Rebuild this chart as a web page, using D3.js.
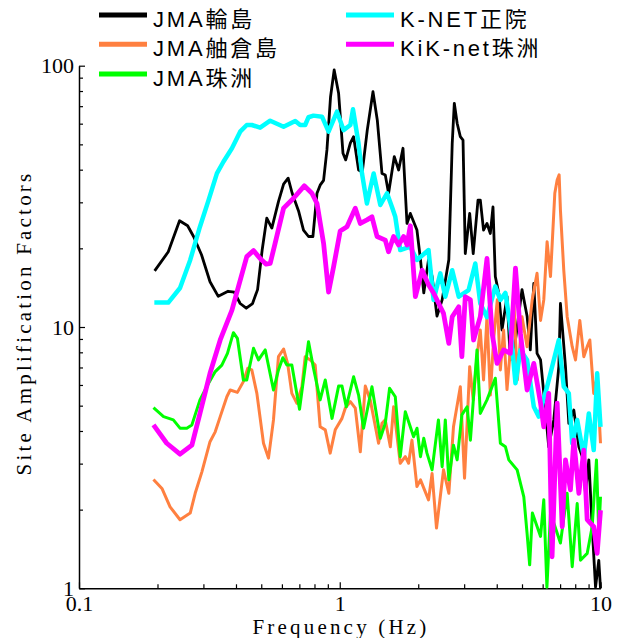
<!DOCTYPE html>
<html>
<head>
<meta charset="utf-8">
<script src="https://cdn.jsdelivr.net/npm/d3@7"></script>
<style>
  body { margin: 0; background: #fff; }
  svg { display: block; }
  .tick text { font-family: "Liberation Serif", "Times New Roman", serif; font-size: 22px; fill: #000; }
  .tick line { stroke: #000; stroke-width: 1.2; }
  .domain { stroke: #000; stroke-width: 1.5; }
  .axis-title { font-family: "Liberation Serif", "Times New Roman", serif; font-size: 21px; letter-spacing: 3.2px; }
  .legend text { font-family: "Liberation Sans", Arial, "Noto Sans CJK JP", sans-serif; font-size: 22px; letter-spacing: 2.8px; }
</style>
</head>
<body>
<div id="chart"></div>
<script>
// site amplification factors, 5 stations, log-log
const wajima = [[0.195,16.4],[0.22,19.4],[0.243,25.5],[0.261,24.4],[0.275,22.2],[0.295,18.9],[0.318,14.9],[0.342,13.1],[0.373,13.7],[0.394,13.6],[0.415,12.3],[0.438,11.8],[0.463,12.3],[0.484,13.9],[0.504,19.7],[0.525,26.1],[0.549,23.9],[0.582,30.2],[0.609,35.2],[0.634,37.1],[0.657,32.5],[0.695,27.8],[0.726,23.5],[0.759,22.2],[0.789,22.2],[0.818,32.5],[0.841,34.9],[0.867,36.4],[0.893,47.6],[0.922,76.1],[0.952,96.3],[0.99,78.4],[1.029,46.2],[1.054,43.6],[1.098,50.5],[1.13,53.5],[1.181,39.9],[1.22,39.2],[1.275,56.7],[1.341,79.5],[1.393,62.0],[1.452,38.7],[1.495,38.2],[1.539,32.5],[1.619,44.9],[1.682,39.9],[1.748,48.3],[1.811,24.9],[1.865,27.2],[1.977,23.5],[2.04,18.1],[2.10,13.5],[2.19,18.1],[2.26,15.6],[2.36,11.0],[2.47,12.7],[2.62,18.1],[2.70,50.5],[2.75,71.8],[2.82,60.2],[2.90,53.5],[2.97,51.9],[3.03,19.1],[3.15,27.2],[3.25,19.1],[3.39,30.6],[3.46,30.6],[3.56,23.5],[3.67,24.9],[3.78,22.8],[3.87,28.8],[3.95,15.6],[4.07,13.5],[4.19,9.74],[4.38,13.1],[4.51,7.48],[4.72,8.92],[5.0,13.9],[5.23,11.0],[5.38,8.17],[5.55,14.7],[5.71,7.93],[5.89,7.48],[6.06,5.58],[6.33,3.48],[6.62,4.41],[6.92,7.05],[7.02,12.3],[7.34,7.05],[7.56,4.28],[7.90,4.81],[8.26,3.48],[8.51,3.19],[8.76,2.31],[9.02,3.10],[9.29,1.72],[9.57,1.01],[9.85,1.28],[10,1.0]];

const hegura = [[0.193,2.61],[0.208,2.41],[0.2235,2.05],[0.244,1.83],[0.267,1.94],[0.279,2.31],[0.296,2.79],[0.318,3.64],[0.333,3.97],[0.348,4.54],[0.369,5.41],[0.38,5.74],[0.405,5.62],[0.427,6.18],[0.444,6.95],[0.46,6.85],[0.481,5.57],[0.51,3.59],[0.533,3.15],[0.557,4.41],[0.582,7.70],[0.609,8.24],[0.631,7.26],[0.655,5.57],[0.685,5.11],[0.716,5.91],[0.737,7.70],[0.771,7.48],[0.805,7.15],[0.841,4.15],[0.88,4.04],[0.919,3.29],[0.961,4.04],[1.02,4.47],[1.05,4.89],[1.098,5.18],[1.147,4.89],[1.199,3.33],[1.253,5.94],[1.309,5.26],[1.409,3.59],[1.452,4.28],[1.495,4.41],[1.563,3.48],[1.609,4.95],[1.706,3.01],[1.784,3.19],[1.837,3.01],[1.892,3.69],[1.977,2.45],[2.04,2.60],[2.19,2.18],[2.26,2.75],[2.35,1.70],[2.50,2.84],[2.62,2.31],[2.73,4.15],[2.90,5.91],[3.01,2.64],[3.08,4.28],[3.15,7.05],[3.25,5.26],[3.36,7.70],[3.46,9.74],[3.56,6.27],[3.67,10.95],[3.78,5.49],[3.89,8.92],[4.02,12.7],[4.13,6.85],[4.25,9.74],[4.38,5.76],[4.51,8.17],[4.65,12.7],[4.80,6.27],[5.0,10.95],[5.23,8.41],[5.47,12.7],[5.71,16.05],[5.89,10.6],[6.06,12.7],[6.24,21.2],[6.43,15.6],[6.68,32.5],[6.82,36.5],[6.94,38.2],[7.02,28.0],[7.23,16.5],[7.45,10.95],[7.79,8.41],[8.02,7.48],[8.33,10.6],[8.63,7.70],[8.89,8.41],[9.10,8.92],[9.42,5.57],[9.71,6.45],[10,3.59]];

const suzuJMA = [[0.193,4.91],[0.211,4.54],[0.23,4.41],[0.244,4.10],[0.259,4.10],[0.271,4.22],[0.291,5.26],[0.314,6.09],[0.333,6.75],[0.353,7.15],[0.371,7.93],[0.391,9.51],[0.405,9.05],[0.427,6.27],[0.44,6.27],[0.467,8.29],[0.488,7.48],[0.518,8.17],[0.557,5.74],[0.582,6.85],[0.605,7.63],[0.627,7.15],[0.655,7.15],[0.701,4.84],[0.759,8.78],[0.793,6.95],[0.841,5.26],[0.88,6.27],[0.934,4.47],[0.99,5.94],[1.02,5.94],[1.059,4.95],[1.13,6.45],[1.181,5.49],[1.234,4.10],[1.329,5.91],[1.431,3.75],[1.495,4.28],[1.553,5.83],[1.633,5.41],[1.706,3.19],[1.784,4.74],[1.92,3.80],[1.978,4.10],[2.04,3.19],[2.10,3.75],[2.16,3.29],[2.26,2.84],[2.39,4.41],[2.47,2.92],[2.54,4.41],[2.62,2.60],[2.73,3.53],[2.82,3.10],[2.94,4.61],[3.08,4.95],[3.17,3.69],[3.36,8.17],[3.46,4.67],[3.67,5.26],[3.95,6.37],[4.13,3.59],[4.32,3.48],[4.45,3.10],[4.79,2.84],[5.08,2.24],[5.23,1.62],[5.35,1.23],[5.48,1.94],[5.89,1.58],[6.06,2.18],[6.23,1.01],[6.43,1.94],[7.02,1.49],[7.45,2.31],[7.79,1.21],[8.14,2.11],[8.38,1.28],[8.89,1.36],[9.29,1.72],[9.65,3.10],[9.85,1.62],[10,2.24]];

const shoin = [[0.1945,12.4],[0.22,12.4],[0.244,14.1],[0.267,18.05],[0.291,24.2],[0.314,30.6],[0.338,38.7],[0.358,42.9],[0.386,48.3],[0.415,55.9],[0.44,59.3],[0.46,59.3],[0.495,57.9],[0.541,61.6],[0.609,58.4],[0.675,61.4],[0.705,59.3],[0.737,59.3],[0.759,63.5],[0.793,64.4],[0.855,63.8],[0.906,55.9],[0.976,66.7],[1.034,56.7],[1.098,59.3],[1.124,68.1],[1.18,50.5],[1.217,38.7],[1.271,29.7],[1.349,38.7],[1.431,29.3],[1.518,32.5],[1.586,28.8],[1.633,26.4],[1.706,19.7],[1.865,20.3],[1.977,18.05],[2.19,19.7],[2.29,12.7],[2.43,16.05],[2.54,13.06],[2.70,16.5],[2.86,13.06],[3.12,13.85],[3.31,17.5],[3.46,12.3],[3.67,10.9],[3.95,14.3],[4.13,12.7],[4.32,13.5],[4.51,10.0],[4.72,6.09],[4.93,8.16],[5.23,7.48],[5.55,4.95],[5.80,4.54],[6.24,5.91],[6.62,7.48],[6.92,8.92],[7.23,5.91],[7.56,5.57],[7.79,3.59],[8.14,4.41],[8.63,3.19],[9.02,4.67],[9.42,3.38],[9.71,6.65],[10,4.15]];

const suzuKiK = [[0.193,4.22],[0.217,3.59],[0.244,3.26],[0.271,3.53],[0.291,4.67],[0.318,6.65],[0.348,8.92],[0.386,11.6],[0.409,14.3],[0.44,18.6],[0.467,19.6],[0.495,18.3],[0.522,17.4],[0.541,17.5],[0.565,20.9],[0.609,28.5],[0.665,31.1],[0.731,34.7],[0.782,32.5],[0.818,29.7],[0.867,20.9],[0.906,13.6],[0.947,17.0],[1.004,23.3],[1.066,24.2],[1.147,28.5],[1.199,24.9],[1.272,25.7],[1.329,26.4],[1.39,22.2],[1.495,21.5],[1.539,19.4],[1.609,22.2],[1.682,20.6],[1.758,22.2],[1.811,20.6],[1.865,24.4],[1.95,13.06],[2.07,16.5],[2.19,14.5],[2.29,13.5],[2.43,11.96],[2.50,11.28],[2.62,8.66],[2.70,10.95],[2.86,11.96],[2.94,7.70],[3.03,13.06],[3.17,12.7],[3.26,8.92],[3.46,10.95],[3.67,18.3],[3.84,9.46],[4.01,7.26],[4.25,8.17],[4.51,7.93],[4.72,16.8],[4.93,9.46],[5.23,5.74],[5.55,7.26],[5.89,5.11],[6.06,4.15],[6.33,5.57],[6.52,1.32],[6.82,5.11],[7.13,1.72],[7.34,3.10],[7.67,2.38],[7.90,3.69],[8.26,2.31],[8.63,3.38],[8.89,1.83],[9.42,1.72],[9.71,1.36],[10,1.99]];

const seriesNames = ['JMA輪島','JMA舳倉島','JMA珠洲','K-NET正院','KiK-net珠洲'];
const seriesColors = ['#000000','#ff8040','#00ff00','#00ffff','#ff00ff'];
const seriesWidths = [2.8, 3, 3, 4.5, 4.8];
const xTickLabels = [0.1, 1, 10];
const yTickLabels = [1, 10, 100];

(function(){
  const W = 622, H = 638;
  const svg = d3.select('#chart').append('svg').attr('width', W).attr('height', H);

  const x = d3.scaleLog().domain([0.1, 10]).range([79, 600.5]);
  const y = d3.scaleLog().domain([1, 100]).range([588.3, 65.7]);

  const xTicks = x.ticks();   // 0.1..10 incl. minors
  const yTicks = y.ticks();

  const fmt = d => (xTickLabels.includes(d) ? String(d) : '');
  const fmtY = d => (yTickLabels.includes(d) ? String(d) : '');

  // y axis, ticks point inward
  const gy = svg.append('g').attr('transform', 'translate(79,0)')
    .call(d3.axisLeft(y).tickValues(yTicks).tickFormat(fmtY).tickSizeInner(-4).tickSizeOuter(0).tickPadding(5));
  gy.selectAll('.tick').filter(d => yTickLabels.includes(d)).select('line').attr('x2', 6);

  const gx = svg.append('g').attr('transform', 'translate(0,588.3)')
    .call(d3.axisBottom(x).tickValues(xTicks).tickFormat(fmt).tickSizeInner(-4).tickSizeOuter(0).tickPadding(7));
  gx.selectAll('.tick').filter(d => xTickLabels.includes(d)).select('line').attr('y2', -6);

  svg.append('text').attr('class','axis-title')
    .attr('transform','translate(31,323) rotate(-90)')
    .attr('text-anchor','middle').text('Site Amplification Factors');
  svg.append('text').attr('class','axis-title')
    .attr('x', 341).attr('y', 634).attr('text-anchor','middle').text('Frequency (Hz)');

  const line = d3.line().x(d => x(d[0])).y(d => y(d[1]));
  const all = [wajima, hegura, suzuJMA, shoin, suzuKiK];
  all.forEach((s, i) => {
    svg.append('path').datum(s)
      .attr('d', line)
      .attr('fill','none')
      .attr('stroke', seriesColors[i])
      .attr('stroke-width', seriesWidths[i])
      .attr('stroke-linejoin','round');
  });

  // legend: 2 columns
  const lg = svg.append('g').attr('class','legend');
  const legendPos = [[99,15],[99,44.3],[99,74],[346,15],[346,44.3]];
  seriesNames.forEach((n, i) => {
    const [lx, ly] = legendPos[i];
    lg.append('line').attr('x1', lx).attr('x2', lx + 48).attr('y1', ly).attr('y2', ly)
      .attr('stroke', seriesColors[i]).attr('stroke-width', 5);
    lg.append('text').attr('x', lx + 54).attr('y', ly + 11.5).text(n);
  });
})();
</script>
</body>
</html>
